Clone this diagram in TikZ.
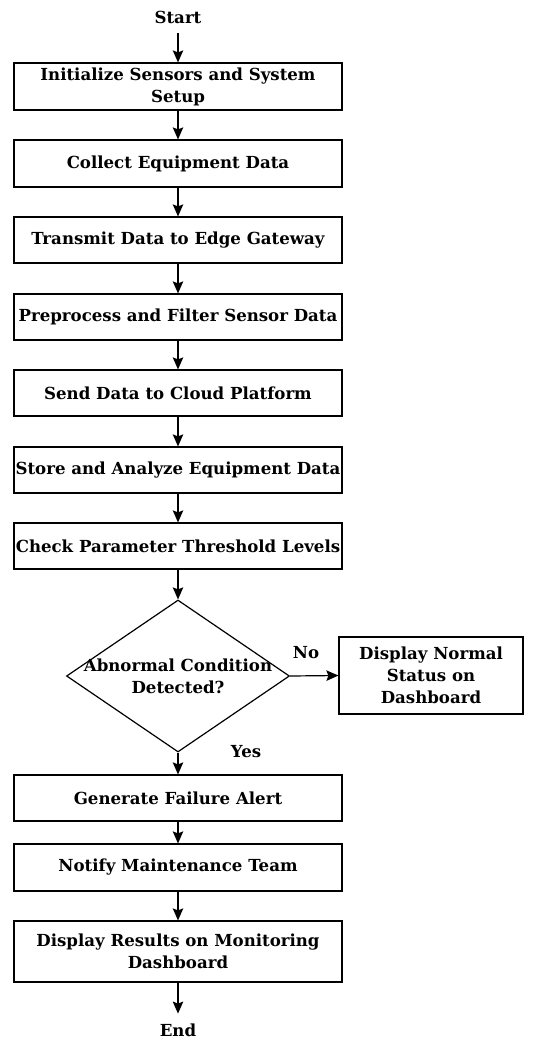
\documentclass[tikz,border=0pt]{standalone}
\usepackage{fontspec}
\setmainfont{DejaVu Serif}
\usetikzlibrary{shapes.geometric,arrows.meta}
\begin{document}
\begin{tikzpicture}[x=1pt,y=-1pt,
  font=\fontsize{16.6}{22}\selectfont\bfseries,
  box/.style={draw, line width=1.2pt, minimum width=328pt, align=center, inner sep=1pt},
  sidebox/.style={draw, line width=1.2pt, minimum width=184pt, minimum height=77pt, align=center, inner sep=1pt},
  term/.style={inner sep=0pt},
  conn/.style={line width=1.2pt, -{Stealth[length=12pt,width=10.5pt,inset=2pt]}}
]
\useasboundingbox (0,0) rectangle (538,1042);
\node[term] (start) at (178,17) {Start};
\node[box, minimum height=47pt] (b1) at (178,86.5) {Initialize Sensors and System\\Setup};
\node[box, minimum height=47pt] (b2) at (178,163.5) {Collect Equipment Data};
\node[box, minimum height=46pt] (b3) at (178,240) {Transmit Data to Edge Gateway};
\node[box, minimum height=46pt] (b4) at (178,317) {Preprocess and Filter Sensor Data};
\node[box, minimum height=46pt] (b5) at (178,393) {Send Data to Cloud Platform};
\node[box, minimum height=46pt] (b6) at (178,470) {Store and Analyze Equipment Data};
\node[box, minimum height=46pt] (b7) at (178,546) {Check Parameter Threshold Levels};
\node[draw, diamond, line width=1.2pt, minimum width=223pt, minimum height=152pt, inner sep=0pt] (dec) at (178,676) {};
\node[term, align=center] (dectext) at (178,676) {Abnormal Condition\\Detected?};
\node[sidebox] (side) at (431,675.5) {Display Normal\\Status on\\Dashboard};
\node[term] (no) at (306,653) {No};
\node[term] (yes) at (246,752) {Yes};
\node[box, minimum height=46pt] (b8) at (178,798) {Generate Failure Alert};
\node[box, minimum height=47pt] (b9) at (178,867.5) {Notify Maintenance Team};
\node[box, minimum height=61pt] (b10) at (178,951.5) {Display Results on Monitoring\\Dashboard};
\node[term] (end) at (178,1030) {End};
\draw[conn] (start) ++(0,16) coordinate (s0) -- (b1.north);
\draw[conn] (b1) -- (b2);
\draw[conn] (b2) -- (b3);
\draw[conn] (b3) -- (b4);
\draw[conn] (b4) -- (b5);
\draw[conn] (b5) -- (b6);
\draw[conn] (b6) -- (b7);
\draw[conn] (b7) -- (dec.north);
\draw[conn] (dec.east) -- (side.west);
\draw[conn] (dec.south) -- (b8.north);
\draw[conn] (b8) -- (b9);
\draw[conn] (b9) -- (b10);
\draw[conn] (b10.south) -- ++(0,31) coordinate (e0);
\end{tikzpicture}
\end{document}
